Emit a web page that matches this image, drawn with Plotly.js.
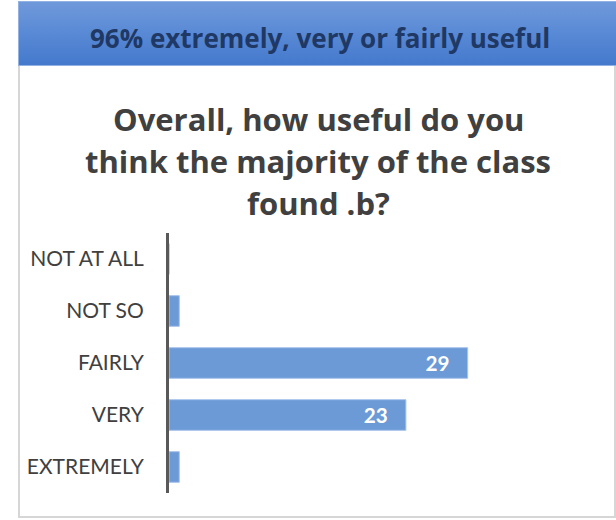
<!DOCTYPE html>
<html>
<head>
<meta charset="utf-8">
<script src="https://cdn.plot.ly/plotly-3.0.1.min.js"></script>
<style>
  html, body { margin: 0; padding: 0; background: #ffffff; }
  #wrap { position: relative; width: 616px; height: 520px; overflow: hidden; }
  #panel { position: absolute; left: 18px; top: 60px; width: 598px; height: 458px;
    border: 2px solid #d6d6d6; border-top: none; box-sizing: border-box; }
  #header { position: absolute; left: 18px; top: 1px; width: 600px; height: 65px;
    background: linear-gradient(to bottom, #7099da 0%, #5b8bd6 45%, #4479cc 100%);
    border: 1px solid #93b2e3; box-sizing: border-box; }
  #chart { position: absolute; left: 0; top: 0; width: 616px; height: 520px; }
</style>
</head>
<body>
<div id="wrap">
  <div id="panel"></div>
  <div id="header"></div>
  <div id="chart"></div>
</div>
<script>
// Data (top-to-bottom order)
const categories = ["NOT AT ALL", "NOT SO", "FAIRLY", "VERY", "EXTREMELY"];
const values = [0, 1, 29, 23, 1];
const headerText = "96% extremely, very or fairly useful";
const titleLines = ["Overall, how useful do you", "think the majority of the class", "found .b?"];

const pad = "\u00a0\u00a0\u00a0";
const labels = values.map(v => v >= 5 ? String(v) + pad : "");

const TICKFONT = "Lato, 'Open Sans', 'DejaVu Sans', sans-serif";
const TITLEFONT = "'Open Sans', Lato, 'DejaVu Sans', sans-serif";

// plot-area geometry helpers (pixels -> paper fraction)
const L = 169, R = 581, T = 233, B = 493;
const px = x => (x - L) / (R - L);
const py = y => (B - y) / (B - T);

const trace = {
  type: "bar",
  orientation: "h",
  y: categories,
  x: values,
  text: labels,
  textposition: "inside",
  insidetextanchor: "end",
  insidetextfont: { family: TICKFONT, size: 21, color: "#ffffff", weight: "bold" },
  marker: { color: "#6b9ad6", line: { color: "#a9c4ea", width: 1 } },
  hoverinfo: "none",
  cliponaxis: false
};

const annotations = [
  {
    xref: "paper", yref: "paper",
    x: px(320), y: py(38),
    xanchor: "center", yanchor: "middle",
    text: "<b>" + headerText + "</b>",
    showarrow: false,
    font: { family: TITLEFONT, size: 26, color: "#1f3864" }
  }
];
const lineCenters = [119, 161, 203];
titleLines.forEach((t, i) => {
  annotations.push({
    xref: "paper", yref: "paper",
    x: px(318), y: py(lineCenters[i]),
    xanchor: "center", yanchor: "middle",
    text: "<b>" + t + "</b>",
    showarrow: false,
    font: { family: TITLEFONT, size: 31, color: "#404040" }
  });
});

const layout = {
  width: 616,
  height: 520,
  margin: { l: L, r: 616 - R, t: T, b: 520 - B, pad: 0 },
  paper_bgcolor: "rgba(0,0,0,0)",
  plot_bgcolor: "rgba(0,0,0,0)",
  showlegend: false,
  bargap: 0.41,
  font: { family: TICKFONT, color: "#404040" },
  xaxis: {
    range: [0, 40],
    visible: false,
    showgrid: false,
    zeroline: false,
    fixedrange: true
  },
  yaxis: {
    type: "category",
    categoryorder: "array",
    categoryarray: categories,
    autorange: "reversed",
    showline: true,
    linecolor: "#595959",
    linewidth: 3,
    showgrid: false,
    zeroline: false,
    ticks: "",
    ticklabelstandoff: 18,
    tickfont: { family: TICKFONT, size: 21, color: "#404040" },
    fixedrange: true
  },
  annotations: annotations
};

Plotly.newPlot("chart", [trace], layout, { displayModeBar: false, staticPlot: true });
</script>
</body>
</html>
